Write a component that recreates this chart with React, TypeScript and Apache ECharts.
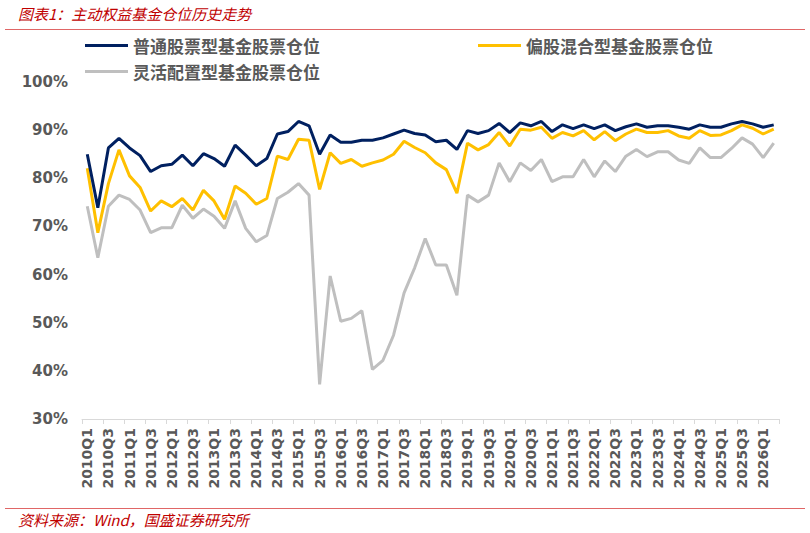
import { useEffect, useRef } from "react";
import * as echarts from "echarts";

const quarters: string[] = [];
for (let y = 2010; y <= 2026; y++) {
  for (let q = 1; q <= 4; q++) {
    if (y === 2026 && q > 2) break;
    quarters.push(`${y}Q${q}`);
  }
}

// 普通股票型基金股票仓位 (%)
const normalStock = [
  85.0, 73.9, 86.3, 88.3, 86.3, 84.7, 81.4, 82.6, 82.9, 84.8, 82.6, 85.1, 84.1, 82.5, 86.9, 84.8, 82.6,
  84.1, 89.2, 89.7, 91.8, 90.9, 85.0, 89.0, 87.5, 87.5, 87.9, 87.9, 88.4, 89.2, 90.0, 89.3, 89.0,
  87.6, 87.9, 86.0, 89.9, 89.3, 89.9, 91.4, 89.5, 91.5, 90.9, 91.8, 89.7, 91.1, 90.3, 91.1, 90.3,
  91.1, 89.9, 90.7, 91.3, 90.6, 90.9, 90.9, 90.6, 90.2, 91.1, 90.6, 90.6, 91.3, 91.8, 91.3, 90.6, 91.1,
];

// 偏股混合型基金股票仓位 (%)
const mixedEquity = [
  82.1, 68.7, 78.9, 85.9, 80.5, 78.1, 73.2, 75.3, 74.1, 75.8, 73.4, 77.5, 75.3, 71.5, 78.4, 76.9, 74.6,
  75.8, 84.6, 83.9, 88.1, 87.9, 77.7, 85.3, 83.1, 83.9, 82.5, 83.2, 83.8, 85.0, 87.7, 86.4, 85.3,
  83.2, 81.8, 76.9, 87.3, 85.9, 87.0, 89.5, 86.7, 90.2, 90.0, 90.6, 88.3, 89.5, 88.8, 89.9, 88.0,
  89.7, 87.8, 89.2, 90.2, 89.5, 89.5, 89.9, 88.8, 88.3, 89.9, 88.9, 89.0, 89.9, 91.1, 90.4, 89.2, 90.2,
];

// 灵活配置型基金股票仓位 (%)
const flexible = [
  74.2, 63.5, 74.2, 76.5, 75.6, 73.4, 68.7, 69.7, 69.7, 74.4, 71.7, 73.6, 72.1, 69.6, 75.3, 69.6, 66.8,
  68.1, 75.8, 77.1, 78.9, 76.5, 37.2, 59.7, 50.3, 50.9, 52.5, 40.3, 42.2, 47.4, 56.2, 61.4, 67.5,
  62.0, 62.0, 55.7, 76.5, 75.1, 76.5, 83.2, 79.3, 83.2, 81.6, 83.9, 79.3, 80.3, 80.3, 83.9, 80.3,
  83.6, 81.4, 84.6, 86.0, 84.5, 85.5, 85.5, 83.8, 83.1, 86.3, 84.3, 84.3, 86.2, 88.4, 87.1, 84.3, 87.3,
];

const seriesNames = ["普通股票型基金股票仓位", "偏股混合型基金股票仓位", "灵活配置型基金股票仓位"];

const TITLE = "图表1：主动权益基金仓位历史走势";
const SOURCE = "资料来源：Wind，国盛证券研究所";

export default function App() {
  const chartRef = useRef<HTMLDivElement>(null);

  useEffect(() => {
    document.body.style.margin = "0";
    if (!chartRef.current) return;
    const chart = echarts.init(chartRef.current, null, { renderer: "svg" });

    const legendText = {
      color: "#595959",
      fontSize: 17,
      lineHeight: 17,
      fontWeight: "bold" as const,
      fontFamily: "Noto Sans CJK SC",
    };
    const legendBase = {
      icon: "rect",
      itemWidth: 43,
      itemHeight: 3,
      itemGap: 0,
      textStyle: legendText,
      padding: 0,
    };

    chart.setOption({
      animation: false,
      backgroundColor: "#ffffff",
      grid: { left: 82, right: 31, top: 82, bottom: 114 },
      legend: [
        { ...legendBase, data: [seriesNames[0]], left: 85, top: 37 },
        { ...legendBase, data: [seriesNames[1]], left: 478, top: 37 },
        { ...legendBase, data: [seriesNames[2]], left: 85, top: 63 },
      ],
      graphic: [
        {
          type: "text",
          left: 18,
          top: 6,
          style: {
            text: TITLE,
            fill: "#C00000",
            fontSize: 15,
            fontStyle: "italic",
            fontFamily: "Noto Sans CJK SC",
          },
        },
        {
          type: "line",
          shape: { x1: 5, y1: 29.5, x2: 805, y2: 29.5 },
          style: { stroke: "#E06666", lineWidth: 1 },
        },
        {
          type: "line",
          shape: { x1: 5, y1: 508.5, x2: 805, y2: 508.5 },
          style: { stroke: "#E06666", lineWidth: 1 },
        },
        {
          type: "text",
          left: 18,
          top: 512,
          style: {
            text: SOURCE,
            fill: "#C00000",
            fontSize: 15,
            fontStyle: "italic",
            fontFamily: "Noto Sans CJK SC",
          },
        },
      ],
      xAxis: {
        type: "category",
        data: quarters,
        boundaryGap: true,
        axisLine: { lineStyle: { color: "#D9D9D9", width: 1 } },
        axisTick: { show: true, length: 5, lineStyle: { color: "#D9D9D9" } },
        axisLabel: {
          interval: 1,
          rotate: 90,
          margin: 9,
          color: "#595959",
          fontSize: 14,
          fontWeight: "bold",
          fontFamily: "DejaVu Sans",
        },
      },
      yAxis: {
        type: "value",
        min: 30,
        max: 100,
        interval: 10,
        axisLine: { show: false },
        axisTick: { show: false },
        splitLine: { show: false },
        axisLabel: {
          formatter: "{value}%",
          color: "#595959",
          fontSize: 15,
          fontWeight: "bold",
          fontFamily: "DejaVu Sans",
          margin: 14,
        },
      },
      series: [
        {
          name: seriesNames[0],
          type: "line",
          data: normalStock,
          symbol: "none",
          z: 4,
          itemStyle: { color: "#002060" },
          lineStyle: { color: "#002060", width: 3 },
        },
        {
          name: seriesNames[1],
          type: "line",
          data: mixedEquity,
          symbol: "none",
          z: 3,
          itemStyle: { color: "#FFC000" },
          lineStyle: { color: "#FFC000", width: 3 },
        },
        {
          name: seriesNames[2],
          type: "line",
          data: flexible,
          symbol: "none",
          z: 2,
          itemStyle: { color: "#BFBFBF" },
          lineStyle: { color: "#BFBFBF", width: 3 },
        },
      ],
    });

    return () => {
      chart.dispose();
    };
  }, []);

  return <div ref={chartRef} style={{ width: 810, height: 533 }} />;
}
